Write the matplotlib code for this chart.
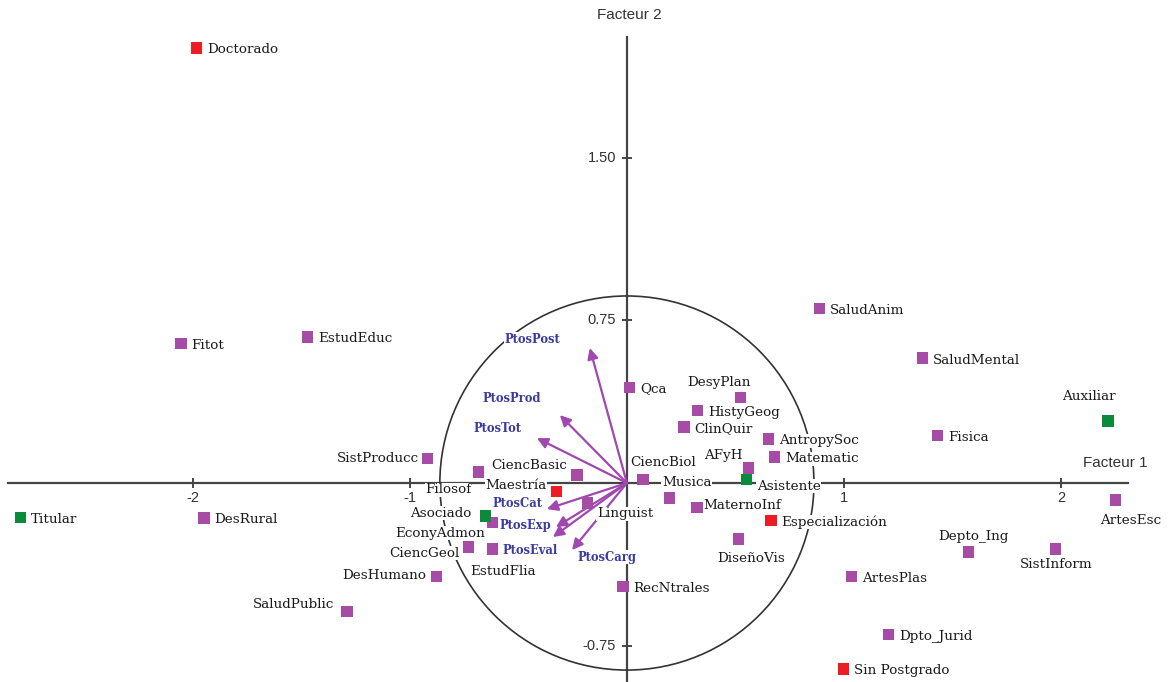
import matplotlib.pyplot as plt
from matplotlib.patches import Circle

# departments (purple), coordinates on factor 1 / factor 2
dept_names = ['Fitot', 'EstudEduc', 'SistProducc', 'DesRural', 'SaludPublic', 'DesHumano',
              'CiencGeol', 'EconyAdmon', 'EstudFlia', 'Filosof', 'CiencBasic', 'Qca',
              'DesyPlan', 'HistyGeog', 'ClinQuir', 'AntropySoc', 'Matematic', 'AFyH',
              'CiencBiol', 'Musica', 'MaternoInf', 'DiseñoVis', 'Linguist', 'RecNtrales',
              'SaludAnim', 'SaludMental', 'Fisica', 'ArtesEsc', 'Depto_Ing', 'SistInform',
              'ArtesPlas', 'Dpto_Jurid']
dept_x = [-2.055, -1.470, -0.917, -1.949, -1.290, -0.876, -0.728, -0.618, -0.618, -0.682,
          -0.230, 0.014, 0.525, 0.327, 0.263, 0.654, 0.682, 0.562, 0.074, 0.198, 0.323,
          0.516, -0.180, -0.018, 0.889, 1.364, 1.433, 2.253, 1.576, 1.977, 1.037, 1.207]
dept_y = [0.645, 0.673, 0.115, -0.161, -0.594, -0.429, -0.295, -0.180, -0.304, 0.051,
          0.037, 0.442, 0.396, 0.336, 0.258, 0.203, 0.120, 0.069, 0.018, -0.069, -0.111,
          -0.258, -0.092, -0.475, 0.806, 0.576, 0.221, -0.078, -0.318, -0.304, -0.429, -0.700]

# academic level (red)
level_names = ['Doctorado', 'Maestría', 'Especialización', 'Sin Postgrado']
level_x = [-1.982, -0.323, 0.664, 1.000]
level_y = [2.005, -0.041, -0.171, -0.857]

# category (green)
cat_names = ['Titular', 'Asociado', 'Asistente', 'Auxiliar']
cat_x = [-2.793, -0.650, 0.553, 2.217]
cat_y = [-0.157, -0.152, 0.018, 0.286]

# active variables (arrows)
var_names = ['PtosPost', 'PtosProd', 'PtosTot', 'PtosCat', 'PtosExp', 'PtosEval', 'PtosCarg']
var_x = [-0.171, -0.309, -0.415, -0.369, -0.327, -0.341, -0.253]
var_y = [0.622, 0.313, 0.207, -0.120, -0.203, -0.249, -0.309]

xticks = [-2, -1, 1, 2]
yticks = [1.50, 0.75, -0.75]

# label placement: (dx, dy) in pixels, ha ; default is right of marker
place = {
    'SistProducc': (-9, 0, 'right'), 'SaludPublic': (-13, 7, 'right'),
    'DesHumano': (-11, 1, 'right'), 'CiencGeol': (-9, -6, 'right'),
    'EconyAdmon': (-8, -11, 'right'), 'EstudFlia': (10, -23, 'center'),
    'Filosof': (-7, -18, 'right'), 'CiencBasic': (-10, 9, 'right'),
    'Maestría': (-10, 6, 'right'), 'Asociado': (-14, 3, 'right'),
    'DesyPlan': (-22, 15, 'center'), 'AFyH': (-6, 13, 'right'),
    'Asistente': (10, -7, 'left'), 'CiencBiol': (20, 17, 'center'),
    'Musica': (-8, 15, 'left'), 'MaternoInf': (6, 2, 'left'),
    'DiseñoVis': (12, -19, 'center'), 'Linguist': (9, -11, 'left'),
    'Auxiliar': (-19, 24, 'center'), 'ArtesEsc': (15, -21, 'center'),
    'Depto_Ing': (5, 16, 'center'), 'SistInform': (0, -16, 'center'),
}
var_place = {
    'PtosPost': (-57, 9), 'PtosProd': (-48, 17), 'PtosTot': (-39, 10),
    'PtosCat': (-29, 6), 'PtosExp': (-31, 2), 'PtosEval': (-23, -13),
    'PtosCarg': (35, -7),
}

purple = '#a64ca6'
red = '#ed1c24'
green = '#0b8a3c'
axcol = '#444444'
serif = 'DejaVu Serif'

fig = plt.figure(figsize=(11.72, 6.82), dpi=100)
ax = fig.add_axes([0, 0, 1, 1])
ax.set_xlim(-2.889, 2.512)
ax.set_ylim(-0.917, 2.226)
ax.set_aspect('equal')
ax.axis('off')

# axes
ax.plot([-2.85, 2.31], [0, 0], color=axcol, lw=1.6, zorder=1)
ax.plot([0, 0], [-0.95, 2.055], color=axcol, lw=1.6, zorder=1)
for t in xticks:
    ax.plot([t, t], [-0.018, 0.018], color=axcol, lw=1.4, zorder=1)
    ax.text(t, -0.035, '%d' % t, ha='center', va='top', fontsize=10.5,
            family='Liberation Sans', color='#333333')
for t in yticks:
    ax.plot([-0.018, 0.018], [t, t], color=axcol, lw=1.4, zorder=1)
    ax.text(-0.05, t, '%.2f' % t, ha='right', va='center', fontsize=10.5,
            family='Liberation Sans', color='#333333')
ax.text(2.252, 0.09, 'Facteur 1', ha='center', va='center', fontsize=11,
        family='Liberation Sans', color='#333333')
ax.text(0.01, 2.155, 'Facteur 2', ha='center', va='center', fontsize=11,
        family='Liberation Sans', color='#333333')

# correlation circle
ax.add_patch(Circle((0, 0), 0.862, fill=False, ec='#333333', lw=1.2, zorder=1))

# arrows
for name, x, y in zip(var_names, var_x, var_y):
    ax.annotate('', xy=(x, y), xytext=(0, 0),
                arrowprops=dict(arrowstyle='-|>', color='#a048b0', lw=1.6,
                                mutation_scale=16, shrinkA=0, shrinkB=0),
                zorder=2)
    dx, dy = var_place[name]
    ax.annotate(name, (x, y), xytext=(dx, dy), textcoords='offset pixels',
                ha='center', va='center', fontsize=8.3, fontweight='bold',
                family=serif, color='#3a3aa0', zorder=4,
                bbox=dict(fc='white', ec='none', pad=0.3))


def draw_points(names, xs, ys, color):
    ax.scatter(xs, ys, marker='s', s=64, color=color, edgecolors='none', zorder=5)
    for name, x, y in zip(names, xs, ys):
        dx, dy, ha = place.get(name, (10, -2, 'left'))
        ax.annotate(name, (x, y), xytext=(dx, dy), textcoords='offset pixels',
                    ha=ha, va='center', fontsize=9.7, family=serif, color='#1a1a1a',
                    zorder=4, bbox=dict(fc='white', ec='none', pad=0.4))


draw_points(dept_names, dept_x, dept_y, purple)
draw_points(level_names, level_x, level_y, red)
draw_points(cat_names, cat_x, cat_y, green)

fig.savefig('out.png', dpi=100, facecolor='white')
